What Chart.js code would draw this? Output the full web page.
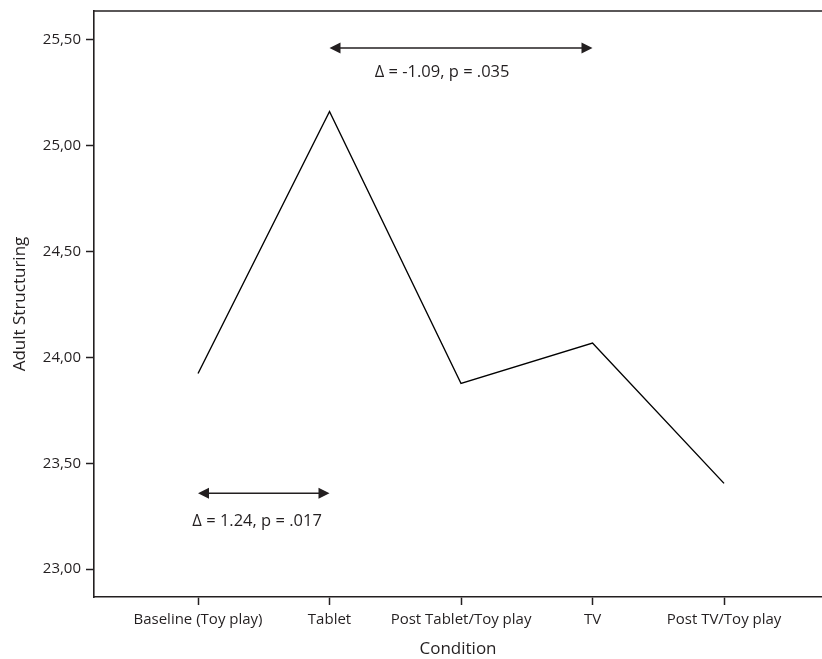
<!DOCTYPE html>
<html>
<head>
<meta charset="utf-8">
<script src="https://cdn.jsdelivr.net/npm/chart.js@4/dist/chart.umd.min.js"></script>
<style>
  html, body { margin: 0; padding: 0; background: #fff; overflow: hidden; }
  #wrap { width: 822px; height: 659px; }
</style>
</head>
<body>
<div id="wrap"><canvas id="c" width="822" height="659"></canvas></div>
<script>
// Condition means of adult structuring
const categories = ['Baseline (Toy play)', 'Tablet', 'Post Tablet/Toy play', 'TV', 'Post TV/Toy play'];
const structuring = [23.924, 25.162, 23.877, 24.068, 23.405];
const yTicks = [23.00, 23.50, 24.00, 24.50, 25.00, 25.50];

// Pairwise comparisons: arrow between two conditions, and its label
const comparisons = [
  { from: 1, to: 3, y: 25.462, label: 'Δ = -1.09, p = .035', labelX: 1.856, labelY: 25.345 },
  { from: 0, to: 1, y: 23.358, label: 'Δ = 1.24, p = .017', labelX: 0.449, labelY: 23.225 }
];

const INK = '#231f20';
const FONT = '"Open Sans", "Noto Sans", sans-serif';

const lineData = structuring.map((v, i) => ({ x: i, y: v }));

const extras = {
  id: 'extras',
  afterDatasetsDraw(chart) {
    const { ctx, chartArea, scales } = chart;
    ctx.save();
    // top frame line
    ctx.strokeStyle = INK;
    ctx.lineWidth = 1.6;
    ctx.beginPath();
    ctx.moveTo(chartArea.left, chartArea.top);
    ctx.lineTo(chartArea.right, chartArea.top);
    ctx.stroke();

    comparisons.forEach(c => {
      const x1 = scales.x.getPixelForValue(c.from);
      const x2 = scales.x.getPixelForValue(c.to);
      const y = scales.y.getPixelForValue(c.y);
      const head = 11, half = 5.5;
      ctx.strokeStyle = INK;
      ctx.fillStyle = INK;
      ctx.lineWidth = 1.5;
      ctx.beginPath();
      ctx.moveTo(x1 + head - 1, y);
      ctx.lineTo(x2 - head + 1, y);
      ctx.stroke();
      ctx.beginPath();
      ctx.moveTo(x1, y);
      ctx.lineTo(x1 + head, y - half);
      ctx.lineTo(x1 + head, y + half);
      ctx.closePath();
      ctx.fill();
      ctx.beginPath();
      ctx.moveTo(x2, y);
      ctx.lineTo(x2 - head, y - half);
      ctx.lineTo(x2 - head, y + half);
      ctx.closePath();
      ctx.fill();

      ctx.font = '16.5px ' + FONT;
      ctx.textAlign = 'center';
      ctx.textBaseline = 'middle';
      ctx.fillText(c.label, scales.x.getPixelForValue(c.labelX), scales.y.getPixelForValue(c.labelY));
    });
    ctx.restore();
  }
};

new Chart(document.getElementById('c'), {
  type: 'line',
  data: {
    datasets: [{
      data: lineData,
      borderColor: '#000',
      borderWidth: 1.4,
      pointRadius: 0,
      tension: 0,
      fill: false
    }]
  },
  options: {
    responsive: false,
    animation: false,
    layout: { padding: { top: 11, right: 0, left: 0, bottom: 0 } },
    plugins: { legend: { display: false }, tooltip: { enabled: false } },
    scales: {
      x: {
        type: 'linear',
        min: -0.791,
        max: 4.745,
        afterBuildTicks(s) { s.ticks = categories.map((_, i) => ({ value: i })); },
        afterFit(s) { s.height = 62; s.paddingLeft = 0; s.paddingRight = 0; },
        ticks: {
          callback: v => categories[v],
          color: INK,
          font: { family: FONT, size: 15 },
          padding: 6,
          maxRotation: 0,
          autoSkip: false
        },
        grid: { drawOnChartArea: false, drawTicks: true, tickLength: 8, tickColor: INK, tickWidth: 1.5 },
        border: { color: INK, width: 1.6 },
        title: {
          display: true,
          text: 'Condition',
          color: INK,
          font: { family: FONT, size: 17 },
          padding: { top: 2, bottom: 0 }
        }
      },
      y: {
        min: 22.868,
        max: 25.637,
        afterBuildTicks(s) { s.ticks = yTicks.map(v => ({ value: v })); },
        afterFit(s) { s.width = 94; s.paddingTop = 0; s.paddingBottom = 0; },
        ticks: {
          callback: v => v.toFixed(2).replace('.', ','),
          color: INK,
          font: { family: FONT, size: 15 },
          padding: 5
        },
        grid: { drawOnChartArea: false, drawTicks: true, tickLength: 8, tickColor: INK, tickWidth: 1.5 },
        border: { color: INK, width: 1.6 },
        title: {
          display: true,
          text: 'Adult Structuring',
          color: INK,
          font: { family: FONT, size: 17 },
          padding: { top: 10, bottom: 0 }
        }
      }
    }
  },
  plugins: [extras]
});
</script>
</body>
</html>
